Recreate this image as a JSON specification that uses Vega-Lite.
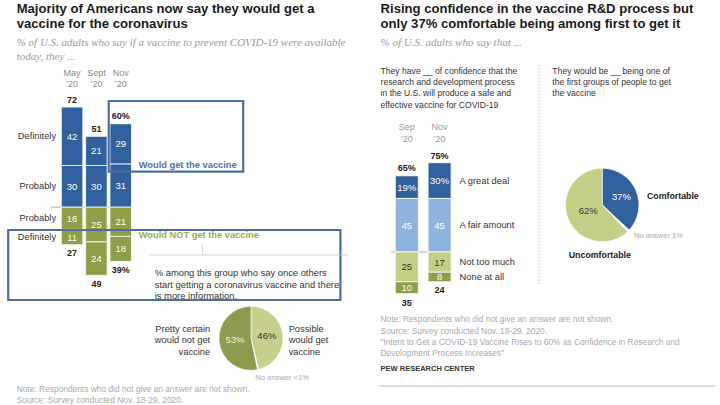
{
  "$schema": "https://vega.github.io/schema/vega-lite/v6.json",
  "background": "white",
  "padding": 0,
  "spacing": 0,
  "bounds": "flush",
  "config": {
    "font": "Liberation Sans",
    "view": {"stroke": null},
    "axis": {"disable": true},
    "legend": {"disable": true}
  },
  "datasets": {
    "leftBars": [
      {"period": "May ’20", "wave": 1, "group": "Would get the vaccine", "strength": "Definitely", "value": 42, "pct": 42},
      {"period": "May ’20", "wave": 1, "group": "Would get the vaccine", "strength": "Probably", "value": 30, "pct": 30},
      {"period": "May ’20", "wave": 1, "group": "Would NOT get the vaccine", "strength": "Probably", "value": -16, "pct": 16},
      {"period": "May ’20", "wave": 1, "group": "Would NOT get the vaccine", "strength": "Definitely", "value": -11, "pct": 11},
      {"period": "Sept ’20", "wave": 2, "group": "Would get the vaccine", "strength": "Definitely", "value": 21, "pct": 21},
      {"period": "Sept ’20", "wave": 2, "group": "Would get the vaccine", "strength": "Probably", "value": 30, "pct": 30},
      {"period": "Sept ’20", "wave": 2, "group": "Would NOT get the vaccine", "strength": "Probably", "value": -25, "pct": 25},
      {"period": "Sept ’20", "wave": 2, "group": "Would NOT get the vaccine", "strength": "Definitely", "value": -24, "pct": 24},
      {"period": "Nov ’20", "wave": 3, "group": "Would get the vaccine", "strength": "Definitely", "value": 29, "pct": 29},
      {"period": "Nov ’20", "wave": 3, "group": "Would get the vaccine", "strength": "Probably", "value": 31, "pct": 31},
      {"period": "Nov ’20", "wave": 3, "group": "Would NOT get the vaccine", "strength": "Probably", "value": -21, "pct": 21},
      {"period": "Nov ’20", "wave": 3, "group": "Would NOT get the vaccine", "strength": "Definitely", "value": -18, "pct": 18}
    ],
    "leftTotals": [
      {"period": "May ’20", "wave": 1, "would": 72, "wouldLabel": "72", "wouldNot": -27, "wouldNotLabel": "27"},
      {"period": "Sept ’20", "wave": 2, "would": 51, "wouldLabel": "51", "wouldNot": -49, "wouldNotLabel": "49"},
      {"period": "Nov ’20", "wave": 3, "would": 60, "wouldLabel": "60%", "wouldNot": -39, "wouldNotLabel": "39%"}
    ],
    "leftPie": [
      {"answer": "Possible would get vaccine", "share": 46, "rank": 1, "inside": "46%"},
      {"answer": "No answer", "share": 0.5, "rank": 2, "inside": ""},
      {"answer": "Pretty certain would not get vaccine", "share": 53, "rank": 3, "inside": "53%"}
    ],
    "rightBars": [
      {"period": "Sep ’20", "wave": 2, "level": "A great deal", "intensity": 2, "value": 19, "label": "19%"},
      {"period": "Sep ’20", "wave": 2, "level": "A fair amount", "intensity": 1, "value": 45, "label": "45"},
      {"period": "Sep ’20", "wave": 2, "level": "Not too much", "intensity": 1, "value": -25, "label": "25"},
      {"period": "Sep ’20", "wave": 2, "level": "None at all", "intensity": 2, "value": -10, "label": "10"},
      {"period": "Nov ’20", "wave": 3, "level": "A great deal", "intensity": 2, "value": 30, "label": "30%"},
      {"period": "Nov ’20", "wave": 3, "level": "A fair amount", "intensity": 1, "value": 45, "label": "45"},
      {"period": "Nov ’20", "wave": 3, "level": "Not too much", "intensity": 1, "value": -17, "label": "17"},
      {"period": "Nov ’20", "wave": 3, "level": "None at all", "intensity": 2, "value": -8, "label": "8"}
    ],
    "rightTotals": [
      {"period": "Sep ’20", "wave": 2, "confident": 65, "confidentLabel": "65%", "notConfident": -35, "notConfidentLabel": "35"},
      {"period": "Nov ’20", "wave": 3, "confident": 75, "confidentLabel": "75%", "notConfident": -24, "notConfidentLabel": "24"}
    ],
    "rightPie": [
      {"answer": "Comfortable", "share": 37, "rank": 1, "inside": "37%"},
      {"answer": "No answer", "share": 1, "rank": 2, "inside": ""},
      {"answer": "Uncomfortable", "share": 62, "rank": 3, "inside": "62%"}
    ]
  },
  "hconcat": [
    {
      "width": 360,
      "height": 405,
      "resolve": {"scale": {"color": "independent"}},
      "layer": [
        {
          "data": {"values": [{}]},
          "mark": {"type": "rule", "color": "#9a9a9a", "strokeWidth": 0.8},
          "encoding": {
            "x": {"datum": 0.12, "type": "quantitative", "scale": {"domain": [-1.76, 12.64], "nice": false, "zero": false}, "axis": null},
            "x2": {"datum": 3.44},
            "y": {"datum": 0, "type": "quantitative", "scale": {"domain": [-142.3, 149.06], "nice": false, "zero": false}, "axis": null}
          }
        },
        {
          "data": {"name": "leftBars"},
          "mark": {"type": "bar", "width": 21.5, "stroke": "white", "strokeWidth": 0.8},
          "encoding": {
            "x": {"field": "wave", "type": "quantitative"},
            "y": {"field": "value", "type": "quantitative", "stack": "zero"},
            "color": {"field": "group", "type": "nominal", "scale": {"domain": ["Would get the vaccine", "Would NOT get the vaccine"], "range": ["#30609d", "#8f9e47"]}, "legend": null},
            "order": {"field": "strength", "sort": "descending"}
          }
        },
        {
          "data": {"name": "leftBars"},
          "mark": {"type": "text", "color": "white", "fontSize": 9.5, "baseline": "middle", "dy": 0.5},
          "encoding": {
            "x": {"field": "wave", "type": "quantitative"},
            "y": {"field": "value", "type": "quantitative", "stack": "zero", "bandPosition": 0.5},
            "detail": {"field": "group"},
            "order": {"field": "strength", "sort": "descending"},
            "text": {"field": "pct", "type": "quantitative"}
          }
        },
        {
          "data": {"name": "leftBars"},
          "transform": [{"filter": "datum.wave === 1"}],
          "mark": {"type": "text", "align": "right", "dx": -16, "fontSize": 9.3, "color": "#333", "baseline": "middle"},
          "encoding": {
            "x": {"field": "wave", "type": "quantitative"},
            "y": {"field": "value", "type": "quantitative", "stack": "zero", "bandPosition": 0.5},
            "detail": {"field": "group"},
            "order": {"field": "strength", "sort": "descending"},
            "text": {"field": "strength"}
          }
        },
        {
          "data": {"name": "leftTotals"},
          "mark": {"type": "text", "fontWeight": "bold", "fontSize": 9, "dy": -4.5, "baseline": "alphabetic", "color": "#222"},
          "encoding": {
            "x": {"field": "wave", "type": "quantitative"},
            "y": {"field": "would", "type": "quantitative"},
            "text": {"field": "wouldLabel"}
          }
        },
        {
          "data": {"name": "leftTotals"},
          "mark": {"type": "text", "fontWeight": "bold", "fontSize": 9, "dy": 11.3, "baseline": "alphabetic", "color": "#222"},
          "encoding": {
            "x": {"field": "wave", "type": "quantitative"},
            "y": {"field": "wouldNot", "type": "quantitative"},
            "text": {"field": "wouldNotLabel"}
          }
        },
        {
          "data": {"name": "leftTotals"},
          "mark": {"type": "text", "fontSize": 9, "color": "#8a8a8a", "lineBreak": " ", "lineHeight": 11, "baseline": "alphabetic"},
          "encoding": {
            "x": {"field": "wave", "type": "quantitative"},
            "y": {"datum": 94.39, "type": "quantitative"},
            "text": {"field": "period"}
          }
        },
        {
          "data": {"values": [{}]},
          "mark": {"type": "rect", "fillOpacity": 0, "stroke": "#4b6ea6", "strokeWidth": 2.2},
          "encoding": {
            "x": {"datum": 2.508, "type": "quantitative"},
            "x2": {"datum": 8.04},
            "y": {"datum": 76.4, "type": "quantitative"},
            "y2": {"datum": 25.54}
          }
        },
        {
          "data": {"values": [{}]},
          "mark": {"type": "rect", "fillOpacity": 0, "stroke": "#4b6ea6", "strokeWidth": 2.2},
          "encoding": {
            "x": {"datum": -1.628, "type": "quantitative"},
            "x2": {"datum": 12.04},
            "y": {"datum": -16.4, "type": "quantitative"},
            "y2": {"datum": -66.76}
          }
        },
        {
          "data": {"values": [{"t": "Would get the vaccine"}]},
          "mark": {"type": "text", "align": "left", "baseline": "alphabetic", "fontWeight": "bold", "fontSize": 9.3, "color": "#4e73ad"},
          "encoding": {
            "x": {"datum": 3.74, "type": "quantitative"},
            "y": {"datum": 28.2, "type": "quantitative"},
            "text": {"field": "t"}
          }
        },
        {
          "data": {"values": [{"t": "Would NOT get the vaccine"}]},
          "mark": {"type": "text", "align": "left", "baseline": "alphabetic", "fontWeight": "bold", "fontSize": 9.3, "color": "#9aab50"},
          "encoding": {
            "x": {"datum": 3.74, "type": "quantitative"},
            "y": {"datum": -22.5, "type": "quantitative"},
            "text": {"field": "t"}
          }
        },
        {
          "data": {"values": [{}]},
          "mark": {"type": "rule", "color": "#c8c8c8", "strokeWidth": 0.8},
          "encoding": {
            "x": {"datum": 6.36, "type": "quantitative"},
            "y": {"datum": -27.2, "type": "quantitative"},
            "y2": {"datum": -34.4}
          }
        },
        {
          "data": {"values": [{}]},
          "mark": {"type": "rule", "color": "#c8c8c8", "strokeWidth": 0.8},
          "encoding": {
            "x": {"datum": 4.16, "type": "quantitative"},
            "x2": {"datum": 12.36},
            "y": {"datum": -34.4, "type": "quantitative"}
          }
        },
        {
          "data": {"values": [{"t": "% among this group who say once others\nstart getting a coronavirus vaccine and there\nis more information."}]},
          "mark": {"type": "text", "align": "left", "baseline": "alphabetic", "fontSize": 9.4, "lineHeight": 11.5, "lineBreak": "\n", "color": "#333"},
          "encoding": {
            "x": {"datum": 4.4, "type": "quantitative"},
            "y": {"datum": -49.5, "type": "quantitative"},
            "text": {"field": "t"}
          }
        },
        {
          "data": {"name": "leftPie"},
          "mark": {"type": "arc", "radius": 32, "stroke": "white", "strokeWidth": 0.6},
          "encoding": {
            "x": {"datum": 8.36, "type": "quantitative"},
            "y": {"datum": -94.32, "type": "quantitative"},
            "theta": {"field": "share", "type": "quantitative", "stack": true},
            "order": {"field": "rank"},
            "color": {"field": "answer", "type": "nominal", "scale": {"domain": ["Possible would get vaccine", "No answer", "Pretty certain would not get vaccine"], "range": ["#c6d08c", "#ffffff", "#8d9b4e"]}, "legend": null}
          }
        },
        {
          "data": {"name": "leftPie"},
          "mark": {"type": "text", "radius": 16, "fontSize": 9.5, "baseline": "middle"},
          "encoding": {
            "x": {"datum": 8.36, "type": "quantitative"},
            "y": {"datum": -94.32, "type": "quantitative"},
            "theta": {"field": "share", "type": "quantitative", "stack": true},
            "order": {"field": "rank"},
            "detail": {"field": "answer"},
            "text": {"field": "inside"},
            "color": {"condition": {"test": "datum.answer === 'Pretty certain would not get vaccine'", "value": "#eef0e0"}, "value": "#333"}
          }
        },
        {
          "data": {"values": [{"t": "Pretty certain\nwould not get\nvaccine"}]},
          "mark": {"type": "text", "align": "right", "baseline": "alphabetic", "fontSize": 9.3, "lineHeight": 11.7, "lineBreak": "\n", "color": "#333"},
          "encoding": {
            "x": {"datum": 6.68, "type": "quantitative"},
            "y": {"datum": -89.6, "type": "quantitative"},
            "text": {"field": "t"}
          }
        },
        {
          "data": {"values": [{"t": "Possible\nwould get\nvaccine"}]},
          "mark": {"type": "text", "align": "left", "baseline": "alphabetic", "fontSize": 9.3, "lineHeight": 11.7, "lineBreak": "\n", "color": "#333"},
          "encoding": {
            "x": {"datum": 9.91, "type": "quantitative"},
            "y": {"datum": -89.6, "type": "quantitative"},
            "text": {"field": "t"}
          }
        },
        {
          "data": {"values": [{"t": "No answer <1%"}]},
          "mark": {"type": "text", "align": "center", "baseline": "alphabetic", "fontSize": 7.6, "color": "#aaaaaa"},
          "encoding": {
            "x": {"datum": 9.64, "type": "quantitative"},
            "y": {"datum": -124.3, "type": "quantitative"},
            "text": {"field": "t"}
          }
        },
        {
          "data": {"values": [{"t": "Majority of Americans now say they would get a\nvaccine for the coronavirus"}]},
          "mark": {"type": "text", "align": "left", "baseline": "alphabetic", "fontWeight": "bold", "fontSize": 13.1, "lineHeight": 15.5, "lineBreak": "\n", "color": "#1a1a1a"},
          "encoding": {
            "x": {"datum": -1.28, "type": "quantitative"},
            "y": {"datum": 139.86, "type": "quantitative"},
            "text": {"field": "t"}
          }
        },
        {
          "data": {"values": [{"t": "% of U.S. adults who say if a vaccine to prevent COVID-19 were available\ntoday, they ..."}]},
          "mark": {"type": "text", "align": "left", "baseline": "alphabetic", "font": "Liberation Serif", "fontStyle": "italic", "fontSize": 11, "lineHeight": 14, "lineBreak": "\n", "color": "#9a9a9a"},
          "encoding": {
            "x": {"datum": -1.28, "type": "quantitative"},
            "y": {"datum": 115.97, "type": "quantitative"},
            "text": {"field": "t"}
          }
        },
        {
          "data": {"values": [{"t": "Note: Respondents who did not give an answer are not shown.\nSource: Survey conducted Nov. 18-29, 2020."}]},
          "mark": {"type": "text", "align": "left", "baseline": "alphabetic", "fontSize": 8.4, "lineHeight": 10.3, "lineBreak": "\n", "color": "#aaaaaa"},
          "encoding": {
            "x": {"datum": -1.28, "type": "quantitative"},
            "y": {"datum": -133.3, "type": "quantitative"},
            "text": {"field": "t"}
          }
        }
      ]
    },
    {
      "width": 360,
      "height": 405,
      "resolve": {"scale": {"color": "independent"}},
      "layer": [
        {
          "data": {"values": [{}]},
          "mark": {"type": "rule", "color": "#9a9a9a", "strokeWidth": 0.8},
          "encoding": {
            "x": {"datum": 1.525, "type": "quantitative", "scale": {"domain": [0.724, 11.406], "nice": false, "zero": false}, "axis": null},
            "x2": {"datum": 3.335},
            "y": {"datum": 0, "type": "quantitative", "scale": {"domain": [-128.57, 211.76], "nice": false, "zero": false}, "axis": null}
          }
        },
        {
          "data": {"name": "rightBars"},
          "mark": {"type": "bar", "width": 23, "stroke": "white", "strokeWidth": 0.8},
          "encoding": {
            "x": {"field": "wave", "type": "quantitative"},
            "y": {"field": "value", "type": "quantitative", "stack": "zero"},
            "color": {"field": "level", "type": "nominal", "scale": {"domain": ["A great deal", "A fair amount", "Not too much", "None at all"], "range": ["#30609d", "#8fb3df", "#c3cf87", "#8f9e47"]}, "legend": null},
            "order": {"field": "intensity"}
          }
        },
        {
          "data": {"name": "rightBars"},
          "mark": {"type": "text", "fontSize": 9.5, "baseline": "middle", "dy": 0.5},
          "encoding": {
            "x": {"field": "wave", "type": "quantitative"},
            "y": {"field": "value", "type": "quantitative", "stack": "zero", "bandPosition": 0.5},
            "detail": {"field": "level"},
            "order": {"field": "intensity"},
            "text": {"field": "label"},
            "color": {"condition": {"test": "datum.level === 'Not too much'", "value": "#333"}, "value": "#ffffff"}
          }
        },
        {
          "data": {"name": "rightBars"},
          "transform": [{"filter": "datum.wave === 3"}],
          "mark": {"type": "text", "align": "left", "dx": 20, "fontSize": 9.3, "color": "#333", "baseline": "middle"},
          "encoding": {
            "x": {"field": "wave", "type": "quantitative"},
            "y": {"field": "value", "type": "quantitative", "stack": "zero", "bandPosition": 0.5},
            "detail": {"field": "level"},
            "order": {"field": "intensity"},
            "text": {"field": "level"}
          }
        },
        {
          "data": {"name": "rightTotals"},
          "mark": {"type": "text", "fontWeight": "bold", "fontSize": 9, "dy": -3.5, "baseline": "alphabetic", "color": "#222"},
          "encoding": {
            "x": {"field": "wave", "type": "quantitative"},
            "y": {"field": "confident", "type": "quantitative"},
            "text": {"field": "confidentLabel"}
          }
        },
        {
          "data": {"name": "rightTotals"},
          "mark": {"type": "text", "fontWeight": "bold", "fontSize": 9, "dy": 12, "baseline": "alphabetic", "color": "#222"},
          "encoding": {
            "x": {"field": "wave", "type": "quantitative"},
            "y": {"field": "notConfident", "type": "quantitative"},
            "text": {"field": "notConfidentLabel"}
          }
        },
        {
          "data": {"name": "rightTotals"},
          "mark": {"type": "text", "fontSize": 9, "color": "#999999", "lineBreak": " ", "lineHeight": 12, "baseline": "alphabetic"},
          "encoding": {
            "x": {"field": "wave", "type": "quantitative"},
            "y": {"datum": 102.1, "type": "quantitative"},
            "text": {"field": "period"}
          }
        },
        {
          "data": {"values": [{}]},
          "mark": {"type": "rule", "color": "#b0b0b0", "strokeWidth": 1, "strokeDash": [1.2, 2]},
          "encoding": {
            "x": {"datum": 6.036, "type": "quantitative"},
            "y": {"datum": 157.1, "type": "quantitative"},
            "y2": {"datum": -26.9}
          }
        },
        {
          "data": {"name": "rightPie"},
          "mark": {"type": "arc", "radius": 36.7, "stroke": "white", "strokeWidth": 0.6},
          "encoding": {
            "x": {"datum": 7.964, "type": "quantitative"},
            "y": {"datum": 39.5, "type": "quantitative"},
            "theta": {"field": "share", "type": "quantitative", "stack": true},
            "order": {"field": "rank"},
            "color": {"field": "answer", "type": "nominal", "scale": {"domain": ["Comfortable", "No answer", "Uncomfortable"], "range": ["#30609d", "#ffffff", "#c3cf87"]}, "legend": null}
          }
        },
        {
          "data": {"name": "rightPie"},
          "mark": {"type": "text", "radius": 21, "fontSize": 9.5, "baseline": "middle", "color": "#ffffff"},
          "encoding": {
            "x": {"datum": 7.964, "type": "quantitative"},
            "y": {"datum": 39.5, "type": "quantitative"},
            "theta": {"field": "share", "type": "quantitative", "stack": true},
            "order": {"field": "rank"},
            "detail": {"field": "answer"},
            "text": {"condition": {"test": "datum.answer === 'Comfortable'", "field": "inside"}, "value": ""}
          }
        },
        {
          "data": {"name": "rightPie"},
          "mark": {"type": "text", "radius": 15, "fontSize": 9.5, "baseline": "middle", "color": "#333"},
          "encoding": {
            "x": {"datum": 7.964, "type": "quantitative"},
            "y": {"datum": 39.5, "type": "quantitative"},
            "theta": {"field": "share", "type": "quantitative", "stack": true},
            "order": {"field": "rank"},
            "detail": {"field": "answer"},
            "text": {"condition": {"test": "datum.answer === 'Uncomfortable'", "field": "inside"}, "value": ""}
          }
        },
        {
          "data": {"values": [{"t": "Comfortable"}]},
          "mark": {"type": "text", "align": "left", "baseline": "alphabetic", "fontWeight": "bold", "fontSize": 8.8, "color": "#222"},
          "encoding": {
            "x": {"datum": 9.329, "type": "quantitative"},
            "y": {"datum": 44.5, "type": "quantitative"},
            "text": {"field": "t"}
          }
        },
        {
          "data": {"values": [{"t": "Uncomfortable"}]},
          "mark": {"type": "text", "align": "center", "baseline": "alphabetic", "fontWeight": "bold", "fontSize": 8.8, "color": "#222"},
          "encoding": {
            "x": {"datum": 7.89, "type": "quantitative"},
            "y": {"datum": -4.7, "type": "quantitative"},
            "text": {"field": "t"}
          }
        },
        {
          "data": {"values": [{"t": "No answer 1%"}]},
          "mark": {"type": "text", "align": "left", "baseline": "alphabetic", "fontSize": 7.5, "color": "#aaaaaa"},
          "encoding": {
            "x": {"datum": 8.935, "type": "quantitative"},
            "y": {"datum": 11.76, "type": "quantitative"},
            "text": {"field": "t"}
          }
        },
        {
          "data": {"values": [{"t": "Rising confidence in the vaccine R&D process but\nonly 37% comfortable being among first to get it"}]},
          "mark": {"type": "text", "align": "left", "baseline": "alphabetic", "fontWeight": "bold", "fontSize": 13.1, "lineHeight": 15.5, "lineBreak": "\n", "color": "#1a1a1a"},
          "encoding": {
            "x": {"datum": 1.199, "type": "quantitative"},
            "y": {"datum": 201.0, "type": "quantitative"},
            "text": {"field": "t"}
          }
        },
        {
          "data": {"values": [{"t": "% of U.S. adults who say that ..."}]},
          "mark": {"type": "text", "align": "left", "baseline": "alphabetic", "font": "Liberation Serif", "fontStyle": "italic", "fontSize": 11, "color": "#9a9a9a"},
          "encoding": {
            "x": {"datum": 1.199, "type": "quantitative"},
            "y": {"datum": 173.1, "type": "quantitative"},
            "text": {"field": "t"}
          }
        },
        {
          "data": {"values": [{"t": "They have __ of confidence that the\nresearch and development process\nin the U.S. will produce a safe and\neffective vaccine for COVID-19"}]},
          "mark": {"type": "text", "align": "left", "baseline": "alphabetic", "fontSize": 8.6, "lineHeight": 11.3, "lineBreak": "\n", "color": "#333"},
          "encoding": {
            "x": {"datum": 1.199, "type": "quantitative"},
            "y": {"datum": 149.75, "type": "quantitative"},
            "text": {"field": "t"}
          }
        },
        {
          "data": {"values": [{"t": "They would be __ being one of\nthe first groups of people to get\nthe vaccine"}]},
          "mark": {"type": "text", "align": "left", "baseline": "alphabetic", "fontSize": 8.6, "lineHeight": 11.3, "lineBreak": "\n", "color": "#333"},
          "encoding": {
            "x": {"datum": 6.442, "type": "quantitative"},
            "y": {"datum": 149.75, "type": "quantitative"},
            "text": {"field": "t"}
          }
        },
        {
          "data": {"values": [{"t": "Note: Respondents who did not give an answer are not shown.\nSource: Survey conducted Nov. 18-29, 2020.\n“Intent to Get a COVID-19 Vaccine Rises to 60% as Confidence in Research and\nDevelopment Process Increases”"}]},
          "mark": {"type": "text", "align": "left", "baseline": "alphabetic", "fontSize": 8.4, "lineHeight": 11.1, "lineBreak": "\n", "color": "#aaaaaa"},
          "encoding": {
            "x": {"datum": 1.199, "type": "quantitative"},
            "y": {"datum": -59.2, "type": "quantitative"},
            "text": {"field": "t"}
          }
        },
        {
          "data": {"values": [{"t": "PEW RESEARCH CENTER"}]},
          "mark": {"type": "text", "align": "left", "baseline": "alphabetic", "fontWeight": "bold", "fontSize": 7.5, "color": "#333"},
          "encoding": {
            "x": {"datum": 1.199, "type": "quantitative"},
            "y": {"datum": -100.3, "type": "quantitative"},
            "text": {"field": "t"}
          }
        },
        {
          "data": {"values": [{}]},
          "mark": {"type": "rule", "color": "#cfcfcf", "strokeWidth": 1.5},
          "encoding": {
            "x": {"datum": 1.169, "type": "quantitative"},
            "x2": {"datum": 11.406},
            "y": {"datum": -112.6, "type": "quantitative"}
          }
        }
      ]
    }
  ]
}
